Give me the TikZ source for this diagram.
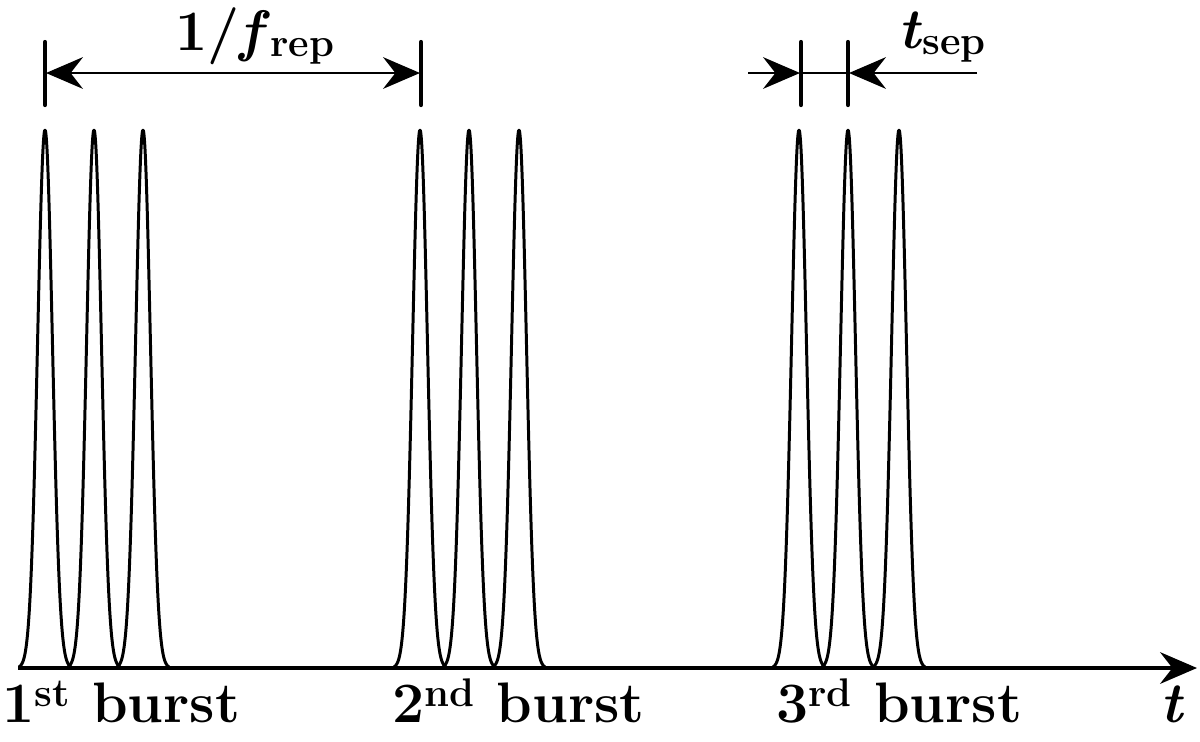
\documentclass[tikz,border=0pt]{standalone}
\usetikzlibrary{arrows.meta}
\begin{document}
\begin{tikzpicture}[x=0.02cm,y=-0.02cm,
  pulse/.style={line width=1.7pt,line join=round},
  axisline/.style={line width=1.9pt,-{Stealth[length=21pt,width=18pt,inset=7pt]}},
  dimline/.style={line width=1.6pt,{Stealth[length=21pt,width=18pt,inset=7pt]}-{Stealth[length=21pt,width=18pt,inset=7pt]}},
  dimarrow/.style={line width=1.6pt,-{Stealth[length=21pt,width=18pt,inset=7pt]}},
  bar/.style={line width=2.4pt,line cap=round},
  lab/.style={font=\fontsize{32.5}{38}\selectfont\bfseries,inner sep=0pt,anchor=base west}]
\useasboundingbox (0,0) rectangle (1200,741);
\fill[white] (0,0) rectangle (1200,741);
% axis
\coordinate (a0) at (18,668);
\coordinate (a1) at (1197,668);
\draw[axisline] (a0) -- (a1);
% pulses
\foreach \cc in {45,94,143,420,469,519,799,848,899}{
  \draw[pulse] plot[domain=-26:26,samples=90,smooth] ({\cc+\x},{668-538*exp(-(\x/10.5)*(\x/10.5))});
}
% burst labels
\node[lab] (b1) at (2,722) {1\textsuperscript{st} burst};
\node[lab] (b2) at (392,722) {2\textsuperscript{nd} burst};
\node[lab] (b3) at (776,722) {3\textsuperscript{rd} burst};
\node[lab] (tlab) at (1160,722) {\itshape t};
% 1/f_rep
\coordinate (p1t) at (45,42); \coordinate (p1b) at (45,105);
\coordinate (p2t) at (421,42); \coordinate (p2b) at (421,105);
\draw[bar] (p1t) -- (p1b);
\draw[bar] (p2t) -- (p2b);
\coordinate (r1) at (46,73); \coordinate (r2) at (420,73);
\draw[dimline] (r1) -- (r2);
\node[lab,anchor=base] (frep) at (255,50) {1/\textit{f}\textsubscript{rep}};
% t_sep
\coordinate (s1t) at (801,42); \coordinate (s1b) at (801,105);
\coordinate (s2t) at (848,42); \coordinate (s2b) at (848,105);
\draw[bar] (s1t) -- (s1b);
\draw[bar] (s2t) -- (s2b);
\coordinate (sa) at (748,73); \coordinate (sa2) at (800,73);
\coordinate (sb) at (977,73); \coordinate (sb2) at (849,73);
\draw[dimarrow] (sa) -- (sa2);
\draw[dimarrow] (sb) -- (sb2);
\draw[line width=1.6pt] (sa2) -- (sb2);
\node[lab] (tsep) at (898,48) {\textit{t}\textsubscript{sep}};
\end{tikzpicture}
\end{document}
